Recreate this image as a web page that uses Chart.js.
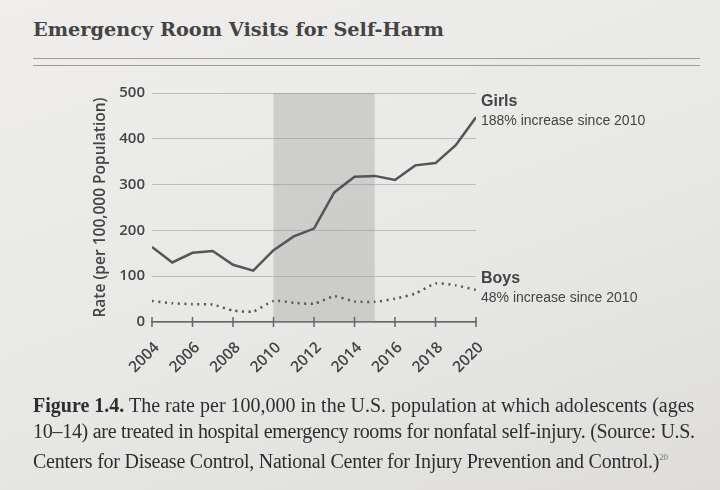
<!DOCTYPE html>
<html>
<head>
<meta charset="utf-8">
<script src="https://cdn.jsdelivr.net/npm/chart.js@4.4.1/dist/chart.umd.min.js"></script>
<style>
  html, body { margin: 0; padding: 0; }
  body {
    width: 720px; height: 490px; position: relative; overflow: hidden;
    background: linear-gradient(160deg, #efeeec 0%, #e8e8e6 55%, #dedddb 100%);
  }
  #chart { position: absolute; left: 0; top: 0; }
  .title {
    position: absolute; left: 33px; top: 19px;
    font-family: "DejaVu Serif", serif; font-weight: bold; font-size: 19.3px; line-height: 22px;
    color: #444; white-space: nowrap;
  }
  .rule { position: absolute; left: 33px; width: 667px; height: 1px; background: #9c9c9c; }
  .note { position: absolute; left: 481px; font-family: "Liberation Sans", Arial, sans-serif; color: #444; white-space: nowrap; }
  .note b { font-size: 16px; line-height: 16px; display: block; }
  .note span { font-size: 14px; line-height: 14px; display: block; }
  .caption {
    position: absolute; left: 33px; font-family: "Liberation Serif", serif;
    font-size: 20px; line-height: 26px; color: #2e2e2e; white-space: nowrap;
  }
  .caption sup { font-size: 9px; color: #777; }
</style>
</head>
<body>
<div class="title">Emergency Room Visits for Self-Harm</div>
<div class="rule" style="top:58px"></div>
<div class="rule" style="top:65px"></div>

<canvas id="chart" width="720" height="490"></canvas>

<div class="note" style="top:93px"><b>Girls</b></div>
<div class="note" style="top:113px"><span>188% increase since 2010</span></div>
<div class="note" style="top:270px"><b>Boys</b></div>
<div class="note" style="top:290px"><span>48% increase since 2010</span></div>

<div class="caption" style="top:392px"><b>Figure 1.4.</b> The rate per 100,000 in the U.S. population at which adolescents (ages</div>
<div class="caption" style="top:418px; letter-spacing:-0.28px">10–14) are treated in hospital emergency rooms for nonfatal self-injury. (Source: U.S.</div>
<div class="caption" style="top:444px; letter-spacing:-0.24px">Centers for Disease Control, National Center for Injury Prevention and Control.)<sup>20</sup></div>

<script>
const years = [2004, 2005, 2006, 2007, 2008, 2009, 2010, 2011, 2012, 2013, 2014, 2015, 2016, 2017, 2018, 2019, 2020];
const girls = [164, 130, 151, 155, 125, 112, 157, 187, 204, 283, 317, 319, 310, 342, 347, 386, 447];
const boys = [46, 41, 39, 38, 25, 23, 46, 42, 40, 56, 45, 44, 51, 62, 84, 80, 70];
const yTicks = [0, 100, 200, 300, 400, 500];
const bandStart = 2010;
const bandEnd = 2015;

const chartElement = document.getElementById('chart').getContext('2d');
const sans = '"Open Sans", "Noto Sans", sans-serif';

const axisPlugin = {
    id: 'axisExtras',
    // shaded period behind the lines
    beforeDatasetsDraw(chart) {
        const { ctx, scales: { x, y } } = chart;
        const top = y.getPixelForValue(yTicks[yTicks.length - 1]);
        const x0 = x.getPixelForValue(bandStart);
        const x1 = x.getPixelForValue(bandEnd);
        ctx.save();
        ctx.fillStyle = 'rgba(150, 150, 150, 0.33)';
        ctx.fillRect(x0, top, x1 - x0, y.getPixelForValue(0) - top);
        ctx.restore();
    },
    // tick marks across the axis line and slanted year labels
    afterDraw(chart) {
        const { ctx, scales: { x, y } } = chart;
        const y0 = y.getPixelForValue(0);
        ctx.save();
        ctx.strokeStyle = '#666';
        ctx.lineWidth = 1.5;
        ctx.fillStyle = '#444';
        ctx.font = '600 15.5px ' + sans;
        ctx.textAlign = 'right';
        ctx.textBaseline = 'middle';
        x.ticks.forEach(t => {
            const px = x.getPixelForValue(t.value);
            ctx.beginPath();
            ctx.moveTo(px, y0 - 5);
            ctx.lineTo(px, y0 + 5);
            ctx.stroke();
            ctx.save();
            ctx.translate(px + 5, y0 + 23);
            ctx.rotate(-Math.PI / 4);
            ctx.fillText(String(t.value), 0, 0);
            ctx.restore();
        });
        ctx.restore();
    }
};

new Chart(chartElement, {
    type: 'line',
    data: {
        datasets: [{
            label: 'Girls',
            data: years.map((yr, i) => ({ x: yr, y: girls[i] })),
            borderColor: '#555',
            borderWidth: 2.5,
            pointRadius: 0,
            tension: 0
        }, {
            label: 'Boys',
            data: years.map((yr, i) => ({ x: yr, y: boys[i] })),
            borderColor: '#555',
            borderWidth: 2.5,
            borderDash: [2, 4.5],
            pointRadius: 0,
            tension: 0.2
        }]
    },
    options: {
        responsive: false,
        animation: false,
        layout: { padding: { left: 91, top: 93, right: 244, bottom: 0 } },
        plugins: {
            legend: { display: false },
            tooltip: { enabled: false }
        },
        scales: {
            x: {
                type: 'linear',
                min: years[0],
                max: years[years.length - 1],
                afterFit: s => { s.height = 168; },
                grid: { display: false },
                border: { display: true, color: '#666', width: 1.5 },
                ticks: { stepSize: 2, autoSkip: false, display: false }
            },
            y: {
                min: 0,
                max: 500,
                afterFit: s => { s.width = 61; },
                afterBuildTicks: s => { s.ticks = yTicks.map(v => ({ value: v })); },
                grid: { color: '#bcbcbc', lineWidth: 1, drawTicks: false },
                border: { display: false },
                ticks: {
                    padding: 7,
                    color: '#444',
                    font: { family: sans, size: 15, weight: '600' }
                },
                title: {
                    display: true,
                    text: 'Rate (per 100,000 Population)',
                    color: '#444',
                    padding: { top: 0, bottom: 2 },
                    font: { family: sans, size: 15.5, weight: '600' }
                }
            }
        }
    },
    plugins: [axisPlugin]
});
</script>
</body>
</html>
